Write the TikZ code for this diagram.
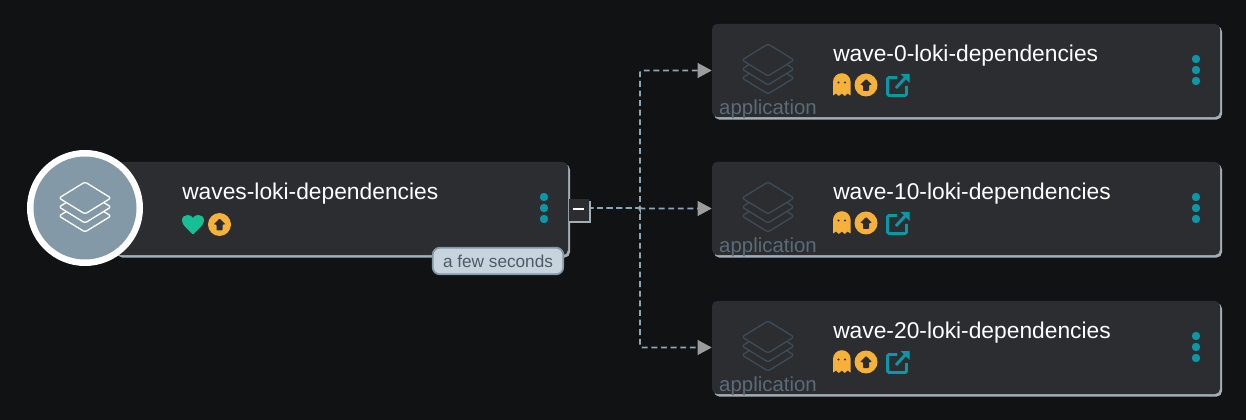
\documentclass[tikz,border=0pt]{standalone}
\usepackage{fontspec}
\setmainfont{Liberation Sans}
\usetikzlibrary{arrows.meta,shadows}

\definecolor{bggray}{HTML}{111213}
\definecolor{cardgray}{HTML}{2B2D31}
\definecolor{edgegray}{HTML}{A3AFB7}
\definecolor{slateblue}{HTML}{8499A8}
\definecolor{dashblue}{HTML}{8FA6B5}
\definecolor{dimslate}{HTML}{3E4C58}
\definecolor{labelslate}{HTML}{5B6B78}
\definecolor{amber}{HTML}{F6B13B}
\definecolor{mint}{HTML}{18BE94}
\definecolor{teal}{HTML}{0A98A8}
\definecolor{tipgray}{HTML}{9C9C9C}
\definecolor{badgefill}{HTML}{C8D4DD}

\tikzset{
  card/.style={rectangle,fill=cardgray,rounded corners=4pt,minimum height=70pt,inner sep=0pt,
    drop shadow={shadow xshift=1.5pt,shadow yshift=-1.8pt,fill=edgegray,opacity=1}},
  cardtitle/.style={anchor=base west,inner sep=0pt,text=white,font=\fontsize{17.1}{20}\selectfont},
  cardlabel/.style={anchor=base,inner sep=0pt,text=labelslate,font=\fontsize{15.3}{18}\selectfont},
  edgeline/.style={draw=dashblue,line width=1.25pt,dash pattern=on 4.4pt off 2.8pt,rounded corners=1.5pt,
    -{Triangle[length=10.5pt,width=11pt,color=tipgray]}},
  layer/.style={line width=1pt,line join=round,rounded corners=1.6pt},
}

% One sheet of the stack icon
\newcommand{\sheet}[3]{\draw[layer,draw=#2,fill=#3] (#1) ++(-26,0) -- ++(26,-16) -- ++(26,16) -- ++(-26,16) -- cycle;}
\newcommand{\stackicon}[4]{
\sheet{#1,#2+18}{#3}{#4}
\sheet{#1,#2+9}{#3}{#4}
\sheet{#1,#2}{#3}{#4}
}
% Amber circle with arrow
\newcommand{\upbadge}[2]{
\fill[amber] (#1,#2) circle (11.5);
\fill[cardgray,rounded corners=0.6pt] (#1,#2-6) -- ++(6,6) -- ++(-3,0) -- ++(0,6) -- ++(-6,0) -- ++(0,-6) -- ++(-3,0) -- cycle;
}
% Three dots
\newcommand{\menudots}[2]{
\foreach \off in {-11,0,11}{
\fill[teal] (#1,#2+\off) circle (4.2);
}
}

\begin{document}
\begin{tikzpicture}[x=0.75pt,y=-0.75pt]
\useasboundingbox (0,0) rectangle (1246,420);
\fill[bggray] (0,0) rectangle (1246,420);

% Parent card
\node[card,minimum width=339.75pt] (main) at (341.5,208.5) {};
\coordinate (trunk) at (640,208);

% Children
\foreach \idx/\ypos/\wavename in {0/70/wave-0-loki-dependencies,10/208/wave-10-loki-dependencies,20/347/wave-20-loki-dependencies}{

\node[card,minimum width=381pt] (wave\idx) at (966,\ypos+0.5) {};
\stackicon{768}{\ypos-10}{dimslate}{cardgray}
\node[cardlabel] (kind\idx) at (768,\ypos+44.5) {application};
\node[cardtitle] (title\idx) at (833,\ypos-8.5) {\wavename};

% Ghost
\fill[amber] (833,\ypos+25.5) -- (833,\ypos+12) arc (180:360:8.8) -- (850.6,\ypos+25.5) -- (847.5,\ypos+23.5) -- (844.8,\ypos+26) -- (841.8,\ypos+23.5) -- (838.8,\ypos+26) -- (836,\ypos+23.5) -- cycle;
\fill[cardgray] (838.5,\ypos+12.5) circle (1.2);
\fill[cardgray] (845,\ypos+12.5) circle (1.2);
\upbadge{866}{\ypos+15}

% External link
\draw[teal,line width=2.2pt,rounded corners=1pt] (897,\ypos+7.5) -- (887.5,\ypos+7.5) -- (887.5,\ypos+25.5) -- (906.5,\ypos+25.5) -- (906.5,\ypos+16);
\draw[teal,line width=2.2pt] (896,\ypos+18) -- (906,\ypos+7);
\fill[teal] (900.5,\ypos+4) -- (909.5,\ypos+4) -- (909.5,\ypos+13) -- cycle;

\menudots{1196}{\ypos}
\draw[edgeline] (main.east |- trunk) -- (trunk) |- (wave\idx.west);
}

% Parent contents
\fill[white] (85,208) circle (58);
\fill[slateblue] (85,208) circle (51.5);
\stackicon{85}{198}{white}{slateblue}
\node[cardtitle] (maintitle) at (182,199.5) {waves-loki-dependencies};

% Heart
\fill[mint] (193,234.5) .. controls (188,229) and (182,225.5) .. (182,220.5) .. controls (182,217) and (184.5,215) .. (187.5,215) .. controls (190,215) and (192,216) .. (193,218) .. controls (194,216) and (196,215) .. (198.5,215) .. controls (201.5,215) and (204,217) .. (204,220.5) .. controls (204,225.5) and (198,229) .. (193,234.5) -- cycle;
\upbadge{219.5}{224.5}
\menudots{544}{208}

% Collapse button
\node[rectangle,fill=cardgray,minimum width=15.5pt,minimum height=16.5pt,inner sep=0pt,
  drop shadow={shadow xshift=1.2pt,shadow yshift=-1.2pt,fill=edgegray,opacity=1}] (collapse) at (579,210) {};
\fill[white] (572.5,208.2) rectangle (584,210);

% Age badge
\node[rectangle,fill=badgefill,draw=slateblue,line width=1.3pt,rounded corners=5.5pt,minimum width=98pt,minimum height=20pt,inner sep=0pt,
  text=labelslate!85!black,font=\fontsize{12.9}{14}\selectfont] (age) at (498,261) {a few seconds};

\end{tikzpicture}
\end{document}
